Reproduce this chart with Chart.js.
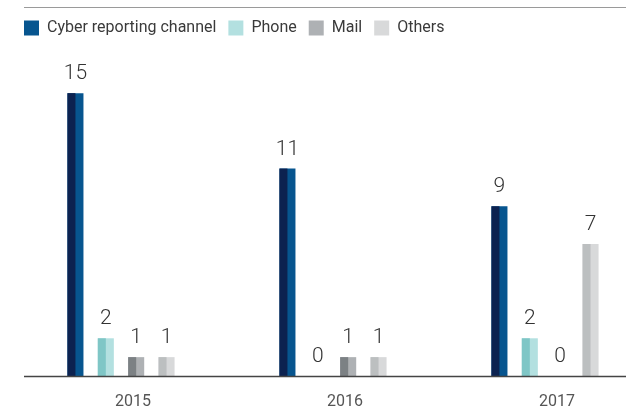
<!DOCTYPE html>
<html>
<head>
<meta charset="utf-8">
<script src="https://cdn.jsdelivr.net/npm/chart.js@4"></script>
<style>
  html, body { margin: 0; padding: 0; background: #fff; overflow: hidden; }
  #wrap { width: 626px; height: 409px; }
</style>
</head>
<body>
<div id="wrap"><canvas id="reportChart"></canvas></div>
<script>
// Reports received per channel
const years = ["2015", "2016", "2017"];
const cyberReports = [15, 11, 9];
const phoneReports = [2, 0, 2];
const mailReports = [1, 1, 0];
const otherReports = [1, 1, 7];

const channelNames = ["Cyber reporting channel", "Phone", "Mail", "Others"];
// [right half / legend colour, left half shade]
const channelColors = [
    ["#07558f", "#0c2250"],
    ["#b3e0e0", "#7fc6c6"],
    ["#aeb1b4", "#7c8184"],
    ["#d8d9da", "#bcbfc0"],
];

const FONT = "Roboto, 'DejaVu Sans', sans-serif";

// Left half of every bar in a darker shade, values above, rules top and bottom
const barDecor = {
    id: "barDecor",
    beforeDraw(chart) {
        const ctx = chart.ctx;
        ctx.save();
        ctx.strokeStyle = "#9a9a9a";
        ctx.lineWidth = 1;
        ctx.beginPath();
        ctx.moveTo(24, 7.5);
        ctx.lineTo(chart.width, 7.5);
        ctx.stroke();
        ctx.restore();
    },
    afterDatasetsDraw(chart) {
        const ctx = chart.ctx;
        const yScale = chart.scales.y;
        ctx.save();
        chart.data.datasets.forEach((ds, i) => {
            const meta = chart.getDatasetMeta(i);
            meta.data.forEach((bar, j) => {
                const top = Math.min(bar.y, bar.base);
                const h = Math.abs(bar.base - bar.y);
                ctx.fillStyle = channelColors[i][1];
                ctx.fillRect(bar.x - bar.width / 2, top, bar.width / 2, h);

                ctx.fillStyle = "#333";
                ctx.font = "300 21px " + FONT;
                ctx.textAlign = "center";
                ctx.textBaseline = "alphabetic";
                ctx.fillText(String(ds.data[j]), bar.x, top - 14);
            });
        });
        const y0 = Math.round(yScale.getPixelForValue(0)) + 0.5;
        ctx.strokeStyle = "#444";
        ctx.lineWidth = 1.5;
        ctx.beginPath();
        ctx.moveTo(24, y0);
        ctx.lineTo(chart.width, y0);
        ctx.stroke();
        ctx.restore();
    },
};

const series = [cyberReports, phoneReports, mailReports, otherReports];

new Chart(document.getElementById("reportChart"), {
    type: "bar",
    data: {
        labels: years,
        datasets: series.map((values, i) => ({
            label: channelNames[i],
            data: values,
            backgroundColor: channelColors[i][0],
            borderWidth: 0,
            clip: false,
            categoryPercentage: 0.573,
            barPercentage: 0.528,
        })),
    },
    options: {
        responsive: true,
        maintainAspectRatio: false,
        animation: false,
        layout: {
            padding: { top: 8, left: 12, right: 81, bottom: 0 },
        },
        plugins: {
            legend: {
                display: true,
                position: "top",
                align: "start",
                labels: {
                    boxWidth: 15,
                    boxHeight: 15,
                    padding: 12,
                    color: "#3a3a3a",
                    font: { family: FONT, size: 16 },
                },
            },
            tooltip: { enabled: false },
        },
        scales: {
            x: {
                offset: false,
                grid: { display: false, drawTicks: false },
                border: { display: false },
                ticks: {
                    color: "#555",
                    padding: 16,
                    labelOffset: 12,
                    font: { family: FONT, size: 16 },
                },
                afterFit(scale) {
                    scale.height = 33;
                },
            },
            y: {
                min: 0,
                max: 17.5,
                grid: { display: false, drawTicks: false },
                border: { display: false },
                ticks: { display: false },
                afterFit(scale) {
                    scale.width = 109;
                },
            },
        },
    },
    plugins: [barDecor],
});
</script>
</body>
</html>
